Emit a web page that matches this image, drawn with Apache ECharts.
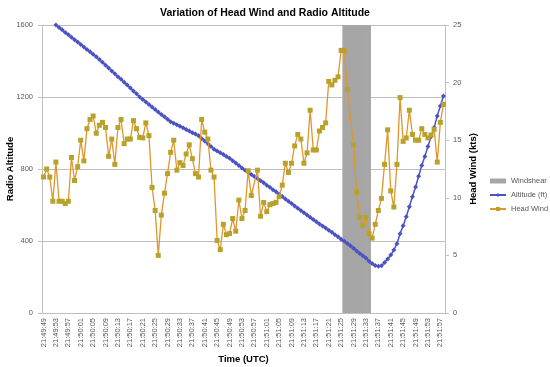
<!DOCTYPE html>
<html><head><meta charset="utf-8">
<script src="https://cdn.jsdelivr.net/npm/echarts@6/dist/echarts.min.js"></script>
<style>html,body{margin:0;padding:0;background:#fff}#c{width:550px;height:367px}</style>
</head><body><div id="c"></div>
<script>
// Time categories: one per second, 21:49:49 .. 21:51:58
const startTime = [21, 49, 49];
const categoryCount = 130;
const times = [];
for (let k = 0; k < categoryCount; k++) {
  const s = startTime[0] * 3600 + startTime[1] * 60 + startTime[2] + k;
  const h = Math.floor(s / 3600), m = Math.floor((s % 3600) / 60), sec = s % 60;
  times.push(h + ':' + String(m).padStart(2, '0') + ':' + String(sec).padStart(2, '0'));
}

// Radio altitude (ft), left axis
const altitude = [
  null, null, null, null, 1600, 1586, 1573, 1559, 1546, 1532,
  1518, 1505, 1491, 1478, 1464, 1451, 1437, 1424, 1408, 1393,
  1377, 1361, 1345, 1329, 1313, 1298, 1282, 1266, 1250, 1234,
  1218, 1200, 1186, 1172, 1158, 1144, 1130, 1117, 1103, 1090,
  1076, 1063, 1054, 1046, 1037, 1029, 1020, 1011, 1002, 994,
  985, 970, 955, 940, 925, 910, 900, 890, 880, 870,
  860, 846, 833, 819, 805, 793, 782, 770, 759, 747,
  735, 723, 710, 698, 685, 673, 660, 647, 634, 621,
  608, 595, 582, 570, 557, 545, 532, 520, 507, 495,
  484, 472, 460, 448, 435, 423, 410, 398, 386, 373,
  360, 345, 330, 318, 305, 288, 275, 264, 260, 263,
  280, 300, 322, 350, 385, 440, 485, 535, 590, 646,
  700, 760, 820, 870, 925, 980, 1030, 1095, 1150, 1206
];

// Head wind (kts), right axis
const headWind = [
  11.8, 12.5, 11.8, 9.7, 13.1, 9.7, 9.7, 9.5, 9.7, 13.5,
  11.5, 12.7, 15.0, 13.2, 16.0, 16.8, 17.1, 15.6, 16.3, 16.55,
  16.1, 13.6, 15.1, 12.9, 16.1, 16.8, 14.7, 15.1, 15.1, 16.7,
  16.0, 15.25, 15.2, 16.5, 15.4, 10.9, 8.9, 5.0, 8.5, 10.4,
  12.1, 13.95, 15.0, 12.4, 13.05, 12.8, 13.8, 14.6, 13.4, 12.1,
  11.8, 16.8, 15.7, 15.1, 12.4, 11.8, 6.3, 5.5, 7.7, 6.8,
  6.9, 8.2, 7.1, 9.8, 8.2, 8.9, 12.35, 10.2, null, 12.4,
  8.4, 9.6, 8.8, 9.4, 9.5, 9.6, 10.1, 11.1, 13.0, 12.2,
  13.0, 14.5, 15.5, 15.1, 13.0, 13.9, 17.6, 14.15, 14.15, 15.8,
  16.1, 16.5, 20.1, 19.8, 20.2, 20.5, 22.8, 22.8, 19.4, null,
  14.6, 10.5, 8.3, 7.6, 8.3, 6.9, 6.5, 7.7, 8.9, 9.95,
  12.9, 15.9, 10.6, 9.2, 12.9, 18.7, 14.9, 15.2, 17.6, 15.5,
  15.0, 15.0, 16.0, 15.5, 15.2, 15.45, 15.95, 13.1, 16.55, 18.1
];

// Windshear period
const windshearStart = '21:51:26';
const windshearEnd = '21:51:34';
const windshearHeight = 1600;
const windshear = times.map(t => (t >= windshearStart && t <= windshearEnd) ? windshearHeight : null);

const FONT = "'Liberation Sans',Arial,sans-serif";
const TXT = '#595959';
const chart = echarts.init(document.getElementById('c'), null, {renderer: 'canvas'});
chart.setOption({
  animation: false,
  backgroundColor: '#fff',
  textStyle: {fontFamily: FONT},
  title: {
    text: 'Variation of Head Wind and Radio Altitude',
    left: 260, top: 3, textAlign: 'center',
    textStyle: {fontFamily: FONT, fontSize: 10.5, fontWeight: 'bold', color: '#000'}
  },
  legend: {
    orient: 'vertical', left: 484, top: 172, itemWidth: 16, itemHeight: 5, itemGap: 6,
    textStyle: {fontFamily: FONT, fontSize: 7.5, color: TXT},
    data: [
      {name: 'Windshear', icon: 'rect'},
      {name: 'Altitude (ft)'},
      {name: 'Head Wind'}
    ]
  },
  grid: {left: 42, right: 105, top: 25, bottom: 54, containLabel: false, outerBoundsMode: 'none'},
  xAxis: {
    type: 'category', data: times, boundaryGap: true,
    name: 'Time (UTC)', nameLocation: 'middle', nameGap: 41, nameMoveOverlap: false,
    nameTextStyle: {fontFamily: FONT, fontSize: 9.5, fontWeight: 'bold', color: '#000'},
    axisLine: {lineStyle: {color: '#bfbfbf'}},
    axisTick: {interval: 0, length: 3, lineStyle: {color: '#bfbfbf'}},
    axisLabel: {interval: 3, rotate: 90, fontSize: 7.5, color: TXT, fontFamily: FONT, margin: 5},
    splitLine: {show: false}
  },
  yAxis: [
    {
      type: 'value', min: 0, max: 1600, interval: 400, position: 'left',
      name: 'Radio Altitude', nameLocation: 'middle', nameGap: 27, nameRotate: 90, nameMoveOverlap: false,
      nameTextStyle: {fontFamily: FONT, fontSize: 9.5, fontWeight: 'bold', color: '#000'},
      axisLine: {show: true, lineStyle: {color: '#bfbfbf'}},
      axisTick: {show: true, length: 4, lineStyle: {color: '#bfbfbf'}},
      axisLabel: {fontSize: 7.5, color: TXT, fontFamily: FONT, margin: 9, formatter: v => String(v)},
      splitLine: {show: true, lineStyle: {color: '#bfbfbf', width: 1}}
    },
    {
      type: 'value', min: 0, max: 25, interval: 5, position: 'right',
      name: 'Head Wind (kts)', nameLocation: 'middle', nameGap: 23, nameRotate: 90, nameMoveOverlap: false,
      nameTextStyle: {fontFamily: FONT, fontSize: 9.5, fontWeight: 'bold', color: '#000'},
      axisLine: {show: true, lineStyle: {color: '#bfbfbf'}},
      axisTick: {show: true, length: 4, lineStyle: {color: '#bfbfbf'}},
      axisLabel: {fontSize: 7.5, color: TXT, fontFamily: FONT, margin: 8},
      splitLine: {show: false}
    }
  ],
  series: [
    {
      name: 'Windshear', type: 'bar', yAxisIndex: 0, data: windshear,
      barWidth: 3.8,
      itemStyle: {color: '#a6a6a6'}, z: 1
    },
    {
      name: 'Altitude (ft)', type: 'line', yAxisIndex: 0, data: altitude,
      symbol: 'diamond', symbolSize: 5, showAllSymbol: true,
      lineStyle: {color: '#4a52c4', width: 1.5},
      itemStyle: {color: '#4a52c4'}, z: 3
    },
    {
      name: 'Head Wind', type: 'line', yAxisIndex: 1, data: headWind,
      connectNulls: true,
      symbol: 'rect', symbolSize: 5, showAllSymbol: true,
      lineStyle: {color: '#e0962c', width: 1.3},
      itemStyle: {color: '#b8a22a'}, z: 4
    }
  ]
});
</script>
</body></html>
